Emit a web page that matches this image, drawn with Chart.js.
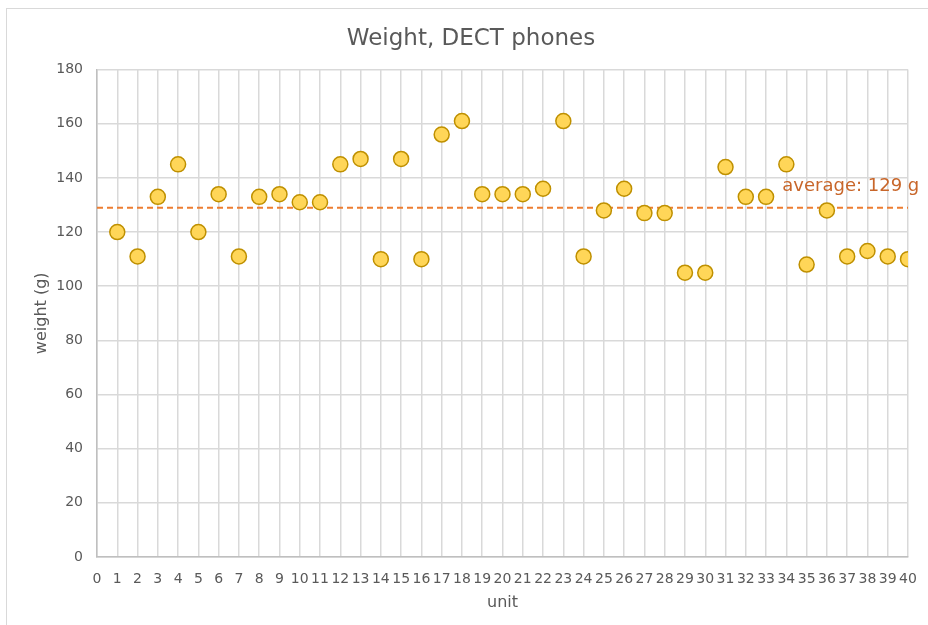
<!DOCTYPE html>
<html>
<head>
<meta charset="utf-8">
<title>Weight, DECT phones</title>
<script src="https://cdn.jsdelivr.net/npm/chart.js@4.4.1/dist/chart.umd.min.js"></script>
<style>
    html, body { margin: 0; padding: 0; background: #ffffff; }
    #wrap { position: relative; width: 928px; height: 625px; overflow: hidden; }
    #frame {
        position: absolute; left: 6px; top: 8px; width: 940px; height: 640px;
        border-left: 1px solid #d9d9d9; border-top: 1px solid #d9d9d9;
    }
    #chart { position: absolute; left: 0; top: 0; }
</style>
</head>
<body>
<div id="wrap">
    <div id="frame"></div>
    <canvas id="chart" width="928" height="625"></canvas>
</div>
<script>
// Handset number and measured weight in grams
const units = [1, 2, 3, 4, 5, 6, 7, 8, 9, 10,
    11, 12, 13, 14, 15, 16, 17, 18, 19, 20,
    21, 22, 23, 24, 25, 26, 27, 28, 29, 30,
    31, 32, 33, 34, 35, 36, 37, 38, 39, 40];
const weights = [120, 111, 133, 145, 120, 134, 111, 133, 134, 131,
    131, 145, 147, 110, 147, 110, 156, 161, 134, 134,
    134, 136, 161, 111, 128, 136, 127, 127, 105, 105,
    144, 133, 133, 145, 108, 128, 111, 113, 111, 110];
const average = 129;
const averageSpan = [0, 40];
const yTicks = [0, 20, 40, 60, 80, 100, 120, 140, 160, 180];

const textColor = '#595959';
const gridColor = '#d9d9d9';
const fontFamily = '"DejaVu Sans", Verdana, sans-serif';

// Label sitting above the dashed average line, towards the right end
const averageLabel = {
    id: 'averageLabel',
    afterDatasetsDraw(chart) {
        const { ctx, scales } = chart;
        const x = scales.x.getPixelForValue(33.8);
        const y = scales.y.getPixelForValue(average) - 21;
        ctx.save();
        ctx.font = '18px ' + fontFamily;
        ctx.fillStyle = '#c8662a';
        ctx.textAlign = 'left';
        ctx.textBaseline = 'middle';
        ctx.fillText(`average: ${average} g`, x, y);
        ctx.restore();
    }
};

new Chart(document.getElementById('chart'), {
    type: 'scatter',
    data: {
        datasets: [{
            label: 'weight',
            data: units.map((u, i) => ({ x: u, y: weights[i] })),
            backgroundColor: '#ffd658',
            borderColor: '#bf9000',
            borderWidth: 1.5,
            pointRadius: 7.5,
            pointHoverRadius: 7.5,
            order: 1
        }, {
            type: 'line',
            label: 'average',
            data: averageSpan.map(x => ({ x: x, y: average })),
            borderColor: '#ed7d31',
            borderWidth: 2,
            borderDash: [6, 4],
            pointRadius: 0,
            fill: false,
            order: 2
        }]
    },
    options: {
        responsive: false,
        animation: false,
        layout: { padding: { left: 14, right: 0, top: 0, bottom: 0 } },
        plugins: {
            legend: { display: false },
            tooltip: { enabled: false },
            title: {
                display: true,
                text: 'Weight, DECT phones',
                color: textColor,
                font: { family: fontFamily, size: 23, weight: 'normal' },
                padding: { top: 25, bottom: 17 }
            }
        },
        scales: {
            x: {
                type: 'linear',
                min: 0,
                max: 40,
                afterFit(scale) {
                    scale.height = 68;
                    scale.paddingRight = 20;
                },
                ticks: {
                    stepSize: 1,
                    autoSkip: false,
                    maxRotation: 0,
                    padding: 14,
                    color: textColor,
                    font: { family: fontFamily, size: 14 }
                },
                grid: { color: gridColor, lineWidth: 1.5, drawTicks: false },
                border: { color: '#bfbfbf', width: 1.5 },
                title: {
                    display: true,
                    text: 'unit',
                    color: textColor,
                    font: { family: fontFamily, size: 16 },
                    padding: { top: 0, bottom: 13 }
                }
            },
            y: {
                min: 0,
                max: 180,
                afterFit(scale) { scale.width = 83; },
                afterBuildTicks(scale) { scale.ticks = yTicks.map(v => ({ value: v })); },
                ticks: {
                    padding: 14,
                    color: textColor,
                    font: { family: fontFamily, size: 14 }
                },
                grid: { color: gridColor, lineWidth: 1.5, drawTicks: false },
                border: { color: '#bfbfbf', width: 1.5 },
                title: {
                    display: true,
                    text: 'weight (g)',
                    color: textColor,
                    font: { family: fontFamily, size: 16 },
                    padding: { top: 18, bottom: 0 }
                }
            }
        }
    },
    plugins: [averageLabel]
});
</script>
</body>
</html>
